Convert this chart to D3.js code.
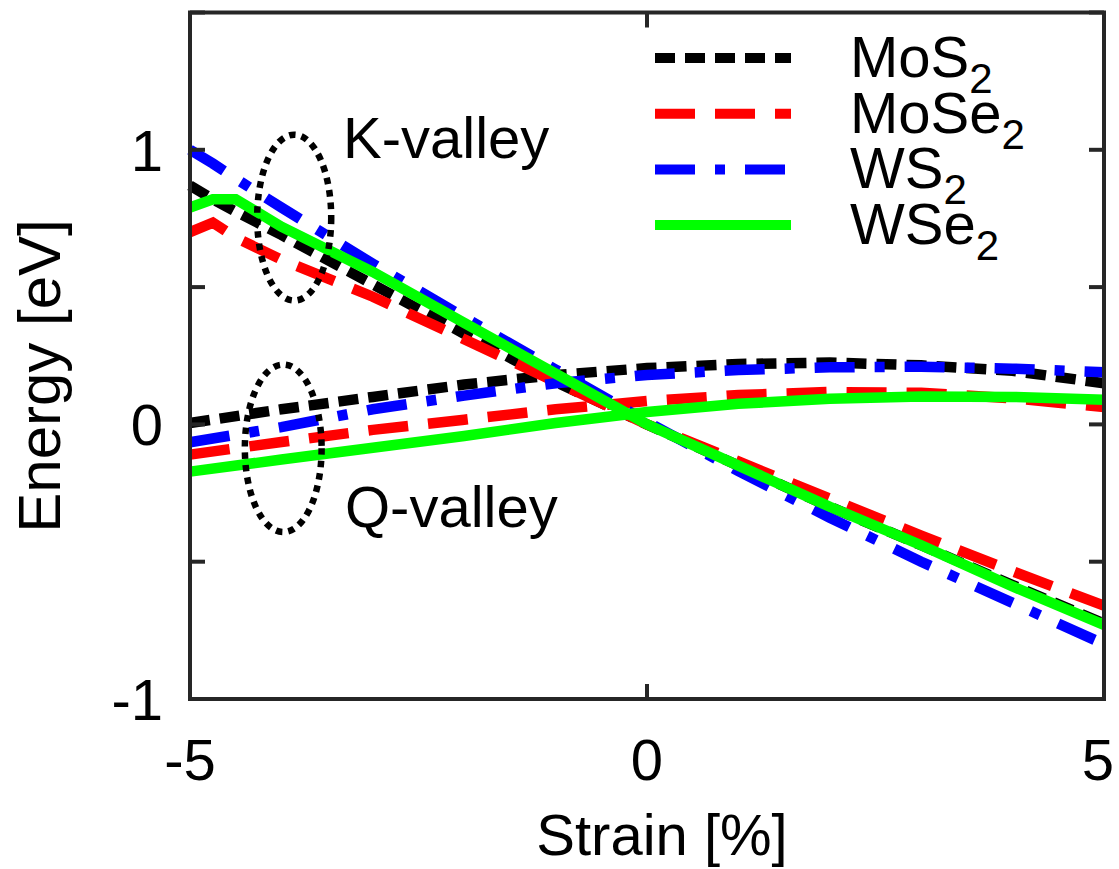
<!DOCTYPE html>
<html>
<head>
<meta charset="utf-8">
<script src="https://cdn.jsdelivr.net/npm/d3@7"></script>
<style>
  html, body { margin: 0; padding: 0; background: #fff; }
  svg { display: block; font-family: "Liberation Sans", Arial, Helvetica, sans-serif; }
</style>
</head>
<body>
<svg id="chart" width="1119" height="869"></svg>
<script>
// Strain grid (%) for the K-valley curves (finer near -5 to resolve the kink)
const strainK = [-5, -4.75, -4.5, -4, -3, -2, -1, 0, 1, 2, 3, 4, 5];
// Strain grid (%) for the Q-valley curves
const strainQ = [-5, -4, -3, -2, -1, 0, 1, 2, 3, 4, 5];

// K-valley energies (eV)
const kMoS2  = [0.87, 0.82, 0.775, 0.69, 0.51, 0.33, 0.155, 0.0, -0.15, -0.30, -0.44, -0.585, -0.725];
const kMoSe2 = [0.70, 0.735, 0.68, 0.60, 0.465, 0.31, 0.155, 0.0, -0.135, -0.27, -0.405, -0.535, -0.66];
const kWS2   = [1.00, 0.95, 0.895, 0.79, 0.585, 0.39, 0.20, 0.01, -0.17, -0.34, -0.50, -0.65, -0.80];
const kWSe2  = [0.79, 0.82, 0.82, 0.72, 0.555, 0.37, 0.185, 0.0, -0.15, -0.30, -0.44, -0.59, -0.73];

// Q-valley energies (eV)
const qMoS2  = [0.005, 0.055, 0.10, 0.145, 0.18, 0.205, 0.22, 0.225, 0.215, 0.195, 0.15];
const qMoSe2 = [-0.11, -0.064, -0.02, 0.017, 0.055, 0.085, 0.107, 0.118, 0.115, 0.095, 0.063];
const qWS2   = [-0.065, -0.01, 0.055, 0.105, 0.15, 0.18, 0.198, 0.208, 0.21, 0.203, 0.19];
const qWSe2  = [-0.172, -0.128, -0.085, -0.042, 0.005, 0.045, 0.075, 0.093, 0.102, 0.10, 0.09];

const materials = ["MoS2", "MoSe2", "WS2", "WSe2"];
const xTicks = [-5, 0, 5];
const yTickLabels = [-1, 0, 1];
const yMinorTicks = [-1, -0.5, 0, 0.5, 1, 1.5];

// Ellipse annotations: centre (strain, energy) and radii in data units
const valleyNotes = [
  { label: "K-valley", cx: -3.86, cy: 0.753, rx: 0.405, ry: 0.302 },
  { label: "Q-valley", cx: -3.98, cy: -0.087, rx: 0.42, ry: 0.305 }
];

// Styles per material
const styles = {
  MoS2:  { color: "#000000", dash: "20,10" },
  MoSe2: { color: "#ff0000", dash: "40,20" },
  WS2:   { color: "#0000ff", dash: "40,20,10,20" },
  WSe2:  { color: "#00ff00", dash: null }
};

const series = [
  { name: "MoS2",  xs: strainK, ys: kMoS2 },
  { name: "MoSe2", xs: strainK, ys: kMoSe2 },
  { name: "WS2",   xs: strainK, ys: kWS2 },
  { name: "WSe2",  xs: strainK, ys: kWSe2 },
  { name: "MoS2",  xs: strainQ, ys: qMoS2 },
  { name: "MoSe2", xs: strainQ, ys: qMoSe2 },
  { name: "WS2",   xs: strainQ, ys: qWS2 },
  { name: "WSe2",  xs: strainQ, ys: qWSe2 }
];

const svg = d3.select("#chart");
const L = 190, R = 1104, T = 12.5, B = 699;
const x = d3.scaleLinear().domain([-5, 5]).range([L, R]);
const y = d3.scaleLinear().domain([-1, 1.5]).range([B, T]);

const line = d3.line().x(d => x(d[0])).y(d => y(d[1]));

// Curves: draw in material order so WSe2 ends on top
const gLines = svg.append("g");
materials.forEach(m => {
  series.filter(s => s.name === m).forEach(s => {
    const pts = s.xs.map((v, i) => [v, s.ys[i]]);
    gLines.append("path")
      .attr("d", line(pts))
      .attr("fill", "none")
      .attr("stroke", styles[m].color)
      .attr("stroke-width", 10.5)
      .attr("stroke-linecap", "butt")
      .attr("stroke-linejoin", "miter")
      .attr("stroke-dasharray", styles[m].dash);
  });
});

// Dotted ellipses and valley labels
valleyNotes.forEach(n => {
  svg.append("ellipse")
    .attr("cx", x(n.cx))
    .attr("cy", y(n.cy))
    .attr("rx", x(n.cx + n.rx) - x(n.cx))
    .attr("ry", y(n.cy) - y(n.cy + n.ry))
    .attr("fill", "none")
    .attr("stroke", "#000")
    .attr("stroke-width", 6.5)
    .attr("stroke-dasharray", "6.5,6");
});
svg.append("text").attr("x", 343).attr("y", 158)
  .attr("font-size", 58).attr("fill", "#000").text(valleyNotes[0].label);
svg.append("text").attr("x", 345).attr("y", 527)
  .attr("font-size", 58).attr("fill", "#000").text(valleyNotes[1].label);

// Frame and ticks
const axisColor = "#262626";
const gAxes = svg.append("g").attr("stroke", axisColor).attr("stroke-width", 4);
gAxes.append("rect")
  .attr("x", L).attr("y", T).attr("width", R - L).attr("height", B - T)
  .attr("fill", "none").attr("stroke-linejoin", "miter");
yMinorTicks.forEach(v => {
  gAxes.append("line").attr("x1", L).attr("x2", L + 15).attr("y1", y(v)).attr("y2", y(v));
  gAxes.append("line").attr("x1", R).attr("x2", R - 15).attr("y1", y(v)).attr("y2", y(v));
});
xTicks.forEach(v => {
  gAxes.append("line").attr("x1", x(v)).attr("x2", x(v)).attr("y1", B).attr("y2", B - 15);
  gAxes.append("line").attr("x1", x(v)).attr("x2", x(v)).attr("y1", T).attr("y2", T + 15);
});

// Tick labels
xTicks.forEach(v => {
  svg.append("text")
    .attr("x", x(v) + (v === 5 ? -6 : 0)).attr("y", 780)
    .attr("text-anchor", "middle").attr("font-size", 58).attr("fill", "#000")
    .text(String(v));
});
yTickLabels.forEach(v => {
  svg.append("text")
    .attr("x", 163).attr("y", y(v) + 21)
    .attr("text-anchor", "end").attr("font-size", 58).attr("fill", "#000")
    .text(String(v));
});

// Axis titles
svg.append("text")
  .attr("x", 662).attr("y", 855)
  .attr("text-anchor", "middle").attr("font-size", 58).attr("fill", "#000")
  .text("Strain [%]");
svg.append("text")
  .attr("transform", "translate(60,376) rotate(-90)")
  .attr("text-anchor", "middle").attr("font-size", 60).attr("fill", "#000")
  .text("Energy [eV]");

// Legend
const legendRows = materials.map((m, i) => ({ m, yy: 58 + i * 55.7 }));
legendRows.forEach(r => {
  svg.append("line")
    .attr("x1", 655).attr("x2", 791).attr("y1", r.yy).attr("y2", r.yy)
    .attr("stroke", styles[r.m].color).attr("stroke-width", 10)
    .attr("stroke-dasharray", styles[r.m].dash);
  const base = r.m.replace(/2$/, "");
  const t = svg.append("text")
    .attr("x", 850).attr("y", r.yy + 19)
    .attr("font-size", 58).attr("fill", "#000");
  t.append("tspan").text(base);
  t.append("tspan").attr("font-size", 42).attr("dy", 16).text("2");
});
</script>
</body>
</html>
